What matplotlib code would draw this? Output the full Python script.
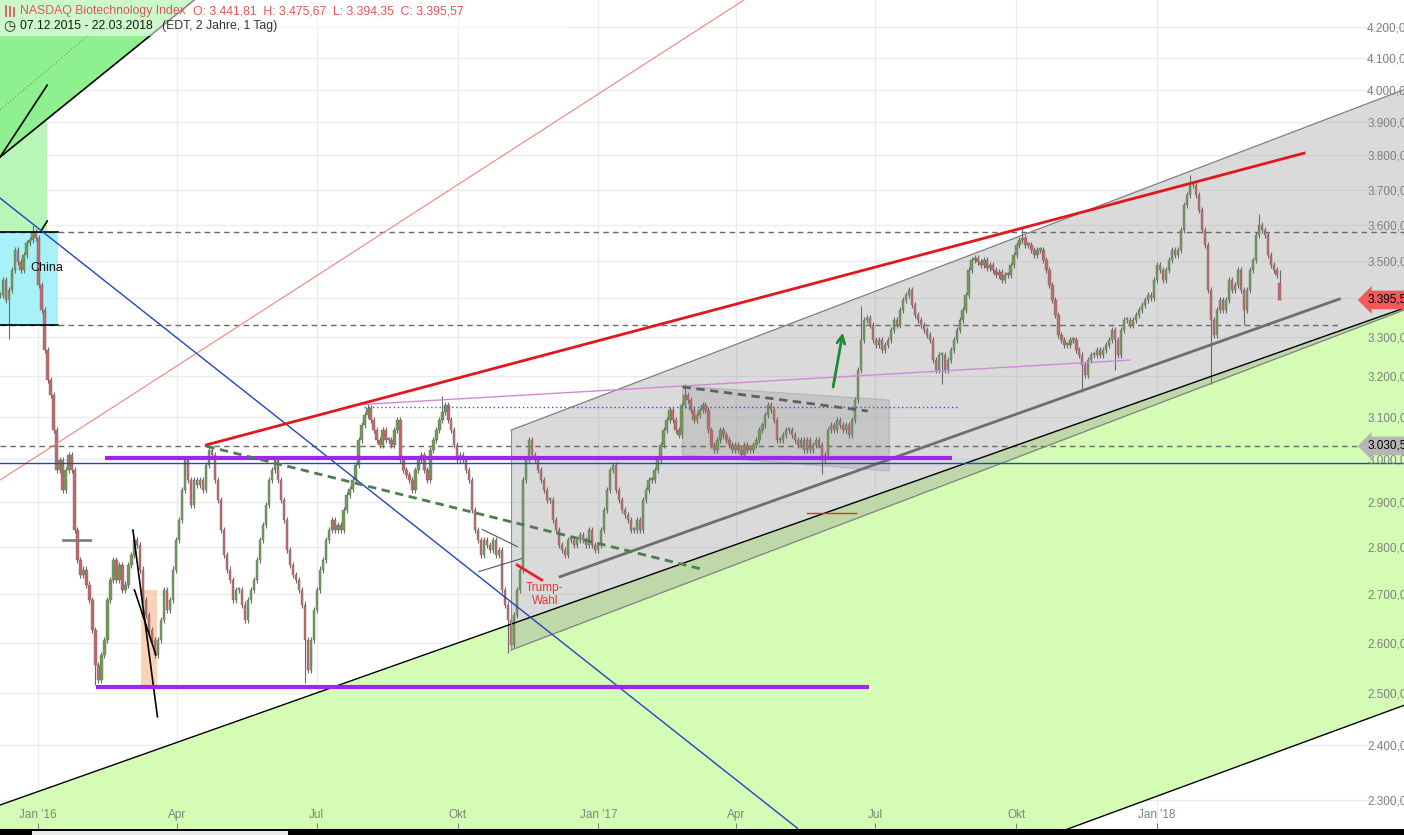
import numpy as np
import pandas as pd
import matplotlib
matplotlib.use("Agg")
import matplotlib.pyplot as plt
import matplotlib.dates as mdates
from matplotlib.patches import Polygon, Rectangle
from matplotlib.lines import Line2D
from matplotlib.transforms import blended_transform_factory
from matplotlib.ticker import FixedLocator, FuncFormatter, NullLocator, NullFormatter

plt.rcParams['font.family'] = ['Liberation Sans', 'DejaVu Sans']

# ---------------- data ----------------
title = "NASDAQ Biotechnology Index"
ohlc_text = "O: 3.441,81  H: 3.475,67  L: 3.394,35  C: 3.395,57"
range_text = "07.12.2015 - 22.03.2018"
range_note = "(EDT, 2 Jahre, 1 Tag)"

start_date = "2015-12-07"
end_date = "2018-03-22"

closes = [
    3409, 3449, 3395, 3422, 3476, 3530, 3497, 3476, 3517, 3550, 3558, 3580, 3563, 3435, 3369, 3266,
    3190, 3153, 3068, 2974, 2998, 2928, 2974, 3009, 2974, 2838, 2773, 2741, 2752, 2720, 2688, 2626,
    2555, 2526, 2575, 2605, 2688, 2730, 2773, 2730, 2762, 2709, 2720, 2762, 2784, 2817, 2806, 2752,
    2688, 2657, 2626, 2605, 2575, 2605, 2646, 2709, 2667, 2688, 2752, 2817, 2861, 2928, 2998, 2951,
    2894, 2951, 2940, 2951, 2928, 2986, 3021, 3009, 2951, 2906, 2838, 2784, 2752, 2730, 2688, 2709,
    2709, 2678, 2646, 2688, 2709, 2730, 2773, 2817, 2850, 2894, 2951, 2974, 2998, 2951, 2906, 2861,
    2795, 2762, 2741, 2730, 2709, 2678, 2605, 2545, 2605, 2667, 2709, 2752, 2773, 2817, 2838, 2861,
    2838, 2850, 2838, 2883, 2917, 2930, 2951, 2986, 3045, 3080, 3105, 3121, 3093, 3068, 3045, 3033,
    3068, 3045, 3045, 3033, 3068, 3093, 2998, 2974, 2963, 2951, 2928, 2974, 2998, 3009, 2974, 2951,
    3021, 3045, 3068, 3093, 3112, 3129, 3093, 3068, 3033, 2998, 3009, 2998, 2974, 2951, 2883, 2838,
    2817, 2784, 2817, 2806, 2795, 2817, 2784, 2795, 2709, 2678, 2646, 2595, 2657, 2709, 2752, 2951,
    2998, 3045, 3009, 2998, 2974, 2951, 2928, 2906, 2906, 2861, 2838, 2806, 2795, 2784, 2817, 2817,
    2806, 2817, 2827, 2817, 2806, 2838, 2806, 2795, 2806, 2838, 2883, 2928, 2974, 2986, 2928, 2906,
    2883, 2872, 2861, 2838, 2838, 2861, 2838, 2906, 2928, 2951, 2951, 2974, 2998, 3033, 3068, 3093,
    3116, 3093, 3068, 3056, 3129, 3153, 3141, 3116, 3093, 3105, 3116, 3129, 3116, 3068, 3033, 3021,
    3045, 3068, 3056, 3045, 3033, 3021, 3033, 3021, 3009, 3033, 3021, 3021, 3033, 3045, 3068, 3080,
    3105, 3129, 3116, 3093, 3045, 3045, 3056, 3068, 3068, 3056, 3045, 3033, 3045, 3021, 3045, 3021,
    3033, 3045, 3033, 2998, 3009, 3068, 3080, 3068, 3093, 3080, 3068, 3080, 3056, 3093, 3141, 3215,
    3291, 3343, 3348, 3330, 3291, 3278, 3291, 3266, 3278, 3291, 3317, 3343, 3330, 3369, 3395, 3409,
    3422, 3382, 3356, 3343, 3330, 3317, 3304, 3291, 3240, 3215, 3253, 3253, 3215, 3240, 3266, 3291,
    3317, 3343, 3369, 3409, 3476, 3503, 3508, 3497, 3489, 3503, 3481, 3489, 3476, 3462, 3470, 3449,
    3462, 3462, 3489, 3517, 3544, 3558, 3563, 3544, 3544, 3530, 3517, 3530, 3530, 3503, 3476, 3435,
    3395, 3356, 3304, 3291, 3278, 3278, 3291, 3291, 3266, 3253, 3228, 3203, 3240, 3253, 3253, 3266,
    3253, 3266, 3278, 3291, 3317, 3291, 3253, 3317, 3343, 3343, 3330, 3343, 3356, 3369, 3382, 3395,
    3409, 3401, 3449, 3489, 3476, 3449, 3476, 3503, 3530, 3517, 3530, 3586, 3656, 3685, 3713, 3713,
    3685, 3642, 3586, 3544, 3422, 3343, 3304, 3369, 3395, 3369, 3395, 3449, 3422, 3435, 3476, 3422,
    3369, 3422, 3476, 3503, 3572, 3600, 3586, 3572, 3517, 3489, 3476, 3462,
]
last_open, last_high, last_low, last_close = 3441.81, 3475.67, 3394.35, 3395.57

# notable wick extremes: (date, low, high)
wick_dates = ["2015-12-13", "2015-12-29", "2016-02-08", "2016-06-24", "2016-08-03", "2016-09-21",
              "2016-11-04", "2017-02-26", "2017-05-27", "2017-06-21", "2017-08-14", "2017-10-05",
              "2017-11-14", "2017-12-04", "2018-01-23", "2018-02-06", "2018-02-26", "2018-03-08"]
wick_lows = [3293, None, 2516, 2520, None, None, 2580, None, 2965, None, 3180, None,
             3160, 3215, None, 3180, 3330, None]
wick_highs = [None, 3600, None, None, 3130, 3150, None, 3180, None, 3380, None, 3590,
              None, None, 3743, None, None, 3630]

y_ticks = list(range(2300, 4300, 100))
x_tick_dates = ["2016-01-01", "2016-04-01", "2016-07-01", "2016-10-01", "2017-01-01",
                "2017-04-01", "2017-07-01", "2017-10-01", "2018-01-01"]
x_tick_labels = ["Jan '16", "Apr", "Jul", "Okt", "Jan '17", "Apr", "Jul", "Okt", "Jan '18"]

# drawing annotations (date, price endpoints)
left_date = "2015-12-07 04:00"
right_date = "2018-06-11 05:00"
green_upper = [(left_date, 2291), (right_date, 3374)]
green_lower = [(left_date, 1656), (right_date, 2476)]
gray_top = [("2016-11-05", 3068), (right_date, 4000)]
gray_bottom = [("2016-11-05", 2585), (right_date, 3369)]
inner_support = [("2016-12-07", 2737), ("2018-04-30", 3398)]
flag_box = [("2017-02-25", 3175), ("2017-07-10", 3141), ("2017-07-10", 2972), ("2017-02-25", 3009)]
flag_dash = [("2017-02-25", 3173), ("2017-06-26", 3114)]
red_resist = [("2016-04-20", 3033), ("2018-04-07", 3807)]
salmon_line = [(left_date, 2951), ("2017-04-06", 4289)]
blue_diag = [(left_date, 3676), ("2017-05-11", 2250)]
blue_level = 2991
purple_upper = [("2016-02-14", 3003), ("2017-08-20", 3003)]
purple_lower = [("2016-02-08", 2512), ("2017-06-27", 2512)]
dash_levels = [(3580, right_date), (3330, "2018-04-30"), (3030.5, right_date)]
green_dash = [("2016-04-20", 3030), ("2017-03-11", 2752)]
orchid_line = [("2016-07-26", 3129), ("2017-12-14", 3240)]
blue_dotted = [("2016-08-01", 3125), ("2017-08-25", 3125)]
green_arrow = [("2017-06-03", 3166), ("2017-06-10", 3317)]
red_short = [("2017-05-17", 2877), ("2017-06-18", 2877)]
ul_rect = [(left_date, 3580), ("2016-01-07", 4400)]
ul_diag = [(left_date, 3795), ("2016-04-12", 4289)]
ul_short = [(left_date, 3795), ("2016-01-07", 4014)]
ul_dotted = [(left_date, 3937), ("2016-03-01", 4289)]
ul_tick = [("2016-01-03", 3583), ("2016-01-07", 3611)]
china_box = [(left_date, 3330), ("2016-01-14", 3580)]
china_label = ("2016-01-07", 3481, "China")
salmon_box = [("2016-03-08", 2512), ("2016-03-19", 2709)]
wedge_a = [("2016-03-03", 2838), ("2016-03-19", 2454)]
wedge_b = [("2016-03-04", 2709), ("2016-03-18", 2575)]
gray_short = [("2016-01-17", 2817), ("2016-02-04", 2817)]
tri_upper = [("2016-10-17", 2840), ("2016-11-09", 2802)]
tri_lower = [("2016-10-15", 2748), ("2016-11-12", 2776)]
trump_line = [("2016-11-09", 2762), ("2016-11-25", 2730)]
trump_label = ("2016-11-27", 2699, "Trump-\nWahl")
tag_prices = [3395.57, 3030.5]
tag_texts = ["3.395,57", "3.030,50"]
tag_colors = ["#f25a5a", "#b5b5b5"]


def dn(s):
    return mdates.date2num(pd.Timestamp(s))


def seg(pair):
    return [dn(pair[0][0]), dn(pair[1][0])], [pair[0][1], pair[1][1]]


# ---------------- figure ----------------
W, H = 1404, 835
fig = plt.figure(figsize=(W / 100, H / 100), dpi=100)
fig.patch.set_facecolor("white")
ax = fig.add_axes([0, 6 / H, 1, 829 / H])
ax.set_facecolor("white")
ax.set_yscale("log")
ax.set_ylim(2248.6, 4289.3)
ax.set_xlim(dn(left_date), dn(right_date))
ax.set_axisbelow(False)

# grid
for v in y_ticks:
    ax.axhline(v, color="#ebebeb", lw=1, zorder=0.2)
for d in x_tick_dates:
    ax.axvline(dn(d), color="#ebebeb", lw=1, zorder=0.2)

# green channel
gx = [dn(green_upper[0][0]), dn(green_upper[1][0])]
ax.fill_between(gx, [green_lower[0][1], green_lower[1][1]], [green_upper[0][1], green_upper[1][1]],
                color="#d4fcb4", lw=0, zorder=1)
for s in (green_upper, green_lower):
    x, y = seg(s)
    ax.plot(x, y, color="black", lw=1, zorder=4)

# gray channel
poly = [(dn(gray_top[0][0]), gray_top[0][1]), (dn(gray_top[1][0]), gray_top[1][1]),
        (dn(gray_bottom[1][0]), gray_bottom[1][1]), (dn(gray_bottom[0][0]), gray_bottom[0][1])]
ax.add_patch(Polygon(poly, closed=True, fc="#9a9a9a", alpha=0.36, ec="none", zorder=1.2))
for s in (gray_top, gray_bottom):
    x, y = seg(s)
    ax.plot(x, y, color="#808080", lw=0.9, zorder=4)
ax.plot([dn(gray_top[0][0])] * 2, [gray_bottom[0][1], gray_top[0][1]], color="#909090", lw=0.8, zorder=4)

# flag box
fpoly = [(dn(d), p) for d, p in flag_box]
ax.add_patch(Polygon(fpoly, closed=True, fc="#9a9a9a", alpha=0.3, ec="#808080", lw=0.9, zorder=1.4))
x, y = seg(flag_dash)
ax.plot(x, y, color="#606060", lw=2, ls=(0, (3, 2)), zorder=5)

# upper-left green wedge
ax.add_patch(Rectangle((dn(ul_rect[0][0]), ul_rect[0][1]), dn(ul_rect[1][0]) - dn(ul_rect[0][0]),
                       ul_rect[1][1] - ul_rect[0][1], fc="#b8f5b8", ec="none", zorder=1.1))
tri = [(dn(ul_diag[0][0]), ul_diag[0][1]), (dn(ul_diag[1][0]), ul_diag[1][1]),
       (dn(ul_diag[1][0]), 4500), (dn(ul_diag[0][0]), 4500)]
ax.add_patch(Polygon(tri, closed=True, fc="#8ff08f", ec="none", zorder=1.15))
for s in (ul_diag, ul_short, ul_tick):
    x, y = seg(s)
    ax.plot(x, y, color="black", lw=1.2, zorder=4)
x, y = seg(ul_dotted)
ax.plot(x, y, color="#6a9a6a", lw=0.8, ls=(0, (1, 2)), zorder=4)

# china box
ax.add_patch(Rectangle((dn(china_box[0][0]), china_box[0][1]), dn(china_box[1][0]) - dn(china_box[0][0]),
                       china_box[1][1] - china_box[0][1], fc="#a6f2f8", ec="none", zorder=1.3))
for lev in (china_box[0][1], china_box[1][1]):
    ax.plot([dn(china_box[0][0]), dn(china_box[1][0])], [lev, lev], color="black", lw=1.2, zorder=4)
ax.text(dn(china_label[0]), china_label[1], china_label[2], ha="center", va="center",
        fontsize=9, color="#111111", zorder=8)

# salmon wedge
ax.add_patch(Rectangle((dn(salmon_box[0][0]), salmon_box[0][1]), dn(salmon_box[1][0]) - dn(salmon_box[0][0]),
                       salmon_box[1][1] - salmon_box[0][1], fc="#fad3b6", ec="none", zorder=1.3))

# dashed levels
for lev, endd in dash_levels:
    ax.plot([dn(left_date), dn(endd)], [lev, lev], color="#6a6a6a", lw=1, ls=(0, (4, 3)), zorder=2)

# candles
n = len(closes)
dates = np.linspace(dn(start_date), dn(end_date), n + 1)
opens = np.array([closes[0]] + closes[:-1] + [last_open], dtype=float)
cl = np.array(closes + [last_close], dtype=float)
hi = np.maximum(opens, cl) * 1.0025
lo = np.minimum(opens, cl) * 0.9975
hi[-1] = last_high
lo[-1] = last_low
for d, l, h in zip(wick_dates, wick_lows, wick_highs):
    i = int(np.argmin(np.abs(dates - dn(d))))
    if l is not None:
        lo[i] = min(lo[i], l)
    if h is not None:
        hi[i] = max(hi[i], h)
up = cl >= opens
body_lo = np.minimum(opens, cl)
body_h = np.maximum(np.abs(cl - opens), body_lo * 0.0015)
ax.vlines(dates, lo, hi, color="#6b6b6b", lw=0.8, zorder=3)
ax.bar(dates, body_h, bottom=body_lo, width=1.55,
       color=np.where(up, "#6f9a55", "#c7666a"), edgecolor="#707070", lw=0.3, zorder=3.1)

# other lines
x, y = seg(inner_support)
ax.plot(x, y, color="#6e6e6e", lw=2, zorder=4)
x, y = seg(red_resist)
ax.plot(x, y, color="#e3161b", lw=2, zorder=5)
x, y = seg(salmon_line)
ax.plot(x, y, color="#f2837b", lw=0.8, zorder=4)
x, y = seg(blue_diag)
ax.plot(x, y, color="#2145c4", lw=1, zorder=4)
ax.axhline(blue_level, color="#2145c4", lw=1, zorder=4)
for s in (purple_upper, purple_lower):
    x, y = seg(s)
    ax.plot(x, y, color="#a024ee", lw=3, zorder=5, solid_capstyle="butt")
x, y = seg(green_dash)
ax.plot(x, y, color="#4d7d4d", lw=2, ls=(0, (3, 2)), zorder=5)
x, y = seg(orchid_line)
ax.plot(x, y, color="#d08ad8", lw=1, zorder=4)
x, y = seg(blue_dotted)
ax.plot(x, y, color="#3355dd", lw=1, ls=(0, (1, 2)), zorder=4)
x, y = seg(red_short)
ax.plot(x, y, color="#e03030", lw=1, zorder=4)
for s in (wedge_a, wedge_b):
    x, y = seg(s)
    ax.plot(x, y, color="black", lw=1.2, zorder=4)
x, y = seg(gray_short)
ax.plot(x, y, color="#808080", lw=2, zorder=4)
for s in (tri_upper, tri_lower):
    x, y = seg(s)
    ax.plot(x, y, color="#555555", lw=0.8, zorder=4)
x, y = seg(trump_line)
ax.plot(x, y, color="#e02828", lw=2, zorder=5)
ax.text(dn(trump_label[0]), trump_label[1], trump_label[2], ha="center", va="center",
        fontsize=8.5, color="#e03a3a", zorder=8, linespacing=1.1)
ax.annotate("", xy=(dn(green_arrow[1][0]), green_arrow[1][1]),
            xytext=(dn(green_arrow[0][0]), green_arrow[0][1]),
            arrowprops=dict(arrowstyle="->", color="#1e8a32", lw=2, mutation_scale=14), zorder=6)

# axes styling
for sp in ("top", "left", "right"):
    ax.spines[sp].set_visible(False)
ax.spines["bottom"].set_color("#a0a0a0")
ax.spines["bottom"].set_zorder(10)
ax.yaxis.set_major_locator(FixedLocator(y_ticks))
ax.yaxis.set_minor_locator(NullLocator())
ax.yaxis.set_minor_formatter(NullFormatter())
ax.yaxis.set_major_formatter(FuncFormatter(
    lambda v, p: f"{v:,.2f}".replace(",", "X").replace(".", ",").replace("X", ".")))
ax.yaxis.tick_right()
ax.tick_params(axis="y", direction="in", length=0, pad=-26.6, labelsize=8.5, labelcolor="#808080")
ax.set_xticks([dn(d) for d in x_tick_dates])
ax.set_xticklabels(x_tick_labels)
ax.tick_params(axis="x", direction="in", length=4, color="#808080", pad=-14.5,
               labelsize=8.5, labelcolor="#7a867a")
ax.xaxis.set_zorder(9)
ax.yaxis.set_zorder(9)

# price tags
bt = blended_transform_factory(ax.transAxes, ax.transData)
for p, t, c in zip(tag_prices, tag_texts, tag_colors):
    ax.text(1368 / W, p, t, transform=bt, ha="left", va="center", fontsize=8.5, color="black",
            zorder=12, clip_on=False,
            bbox=dict(boxstyle="larrow,pad=0.28", fc=c, ec="none"))

# header
fig.patches.append(Rectangle((0, 1 - 36 / H), 570 / W, 36 / H, transform=fig.transFigure,
                             fc="white", alpha=0.55, ec="none", zorder=20))
for k, xx in enumerate((6, 10, 14)):
    fig.add_artist(Line2D([xx / W, xx / W], [1 - (6 + k) / H, 1 - 16 / H],
                          transform=fig.transFigure, color="#e05a5a", lw=1.3, zorder=21))
fig.text(20 / W, 1 - 11 / H, title, color="#e05555", fontsize=8.8, va="center", ha="left", zorder=22)
fig.text(193 / W, 1 - 11 / H, ohlc_text, color="#e05555", fontsize=8.8, va="center", ha="left", zorder=22)
fig.text(3 / W, 1 - 26 / H, "\u25F7", color="#222222", fontsize=10, va="center", ha="left",
         family="DejaVu Sans", zorder=22)
fig.text(20 / W, 1 - 26 / H, range_text, color="#1a1a1a", fontsize=8.8, va="center", ha="left", zorder=22)
fig.text(162 / W, 1 - 26 / H, range_note, color="#333333", fontsize=8.8, va="center", ha="left", zorder=22)

# bottom strip (scrollbar)
fig.patches.append(Rectangle((0, 0), 1, 6 / H, transform=fig.transFigure, fc="black", ec="none", zorder=20))
fig.patches.append(Rectangle((32 / W, 0), 256 / W, 4 / H, transform=fig.transFigure, fc="#e8e8e8",
                             ec="none", zorder=21))

fig.savefig("out.png", dpi=100)
